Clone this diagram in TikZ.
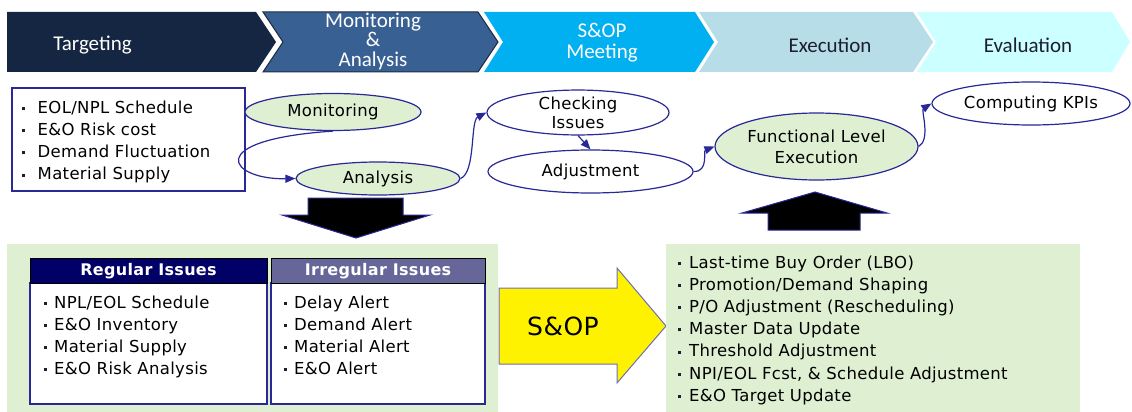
\documentclass[tikz,border=0pt]{standalone}
\usepackage{fontspec}
\setmainfont{DejaVu Sans}[LetterSpace=2.0]
\newfontfamily\bannerfont{Carlito}
\usetikzlibrary{shapes.geometric,arrows.meta}

\definecolor{navyline}{RGB}{40,40,150}
\definecolor{leaf}{RGB}{222,239,210}
\definecolor{tgtnavy}{RGB}{20,38,66}
\definecolor{monblue}{RGB}{56,96,146}
\definecolor{mondark}{RGB}{30,44,70}
\definecolor{sopblue}{RGB}{0,176,240}
\definecolor{exeblue}{RGB}{183,221,232}
\definecolor{evalcyan}{RGB}{204,255,255}
\definecolor{darktext}{RGB}{30,30,50}
\definecolor{reghead}{RGB}{0,0,102}
\definecolor{irrhead}{RGB}{102,102,153}
\definecolor{yellowline}{RGB}{110,110,180}

% square list marks
\newcommand\dotmark{\raisebox{3.2pt}{\color{darktext}\rule{3pt}{3pt}}}
\newcommand\bulA{\makebox[17pt][l]{\hspace{1pt}\dotmark}}
\newcommand\bulB{\makebox[11pt][l]{\hspace{1pt}\dotmark}}
\newcommand\bulC{\makebox[12pt][l]{\hspace{1pt}\dotmark}}

\begin{document}
\begin{tikzpicture}[x=1pt,y=-1pt,
  bannertext/.style={font=\bannerfont\fontsize{21}{19.5}\selectfont, align=center, inner sep=0pt},
  oval/.style={ellipse, draw=navyline, line width=1.2pt, inner sep=0pt, align=center,
    font=\fontsize{16.5}{19}\selectfont},
  link/.style={draw=navyline, line width=1.2pt, -{Triangle[length=10pt,width=8pt]}},
  item/.style={anchor=base west, inner sep=0pt, font=\fontsize{16.5}{19}\selectfont},
  blockarrow/.style={fill=black, draw=navyline, line width=1pt},
  headtext/.style={text=white, font=\bfseries\fontsize{16}{19}\selectfont, inner sep=0pt},
]
\useasboundingbox (0,0) rectangle (1132,412);

% process banner
\fill[tgtnavy] (7,12) -- (256,12) -- (276,42) -- (256,72) -- (7,72) -- cycle;
\filldraw[fill=monblue, draw=mondark, line width=1pt]
  (263,12) -- (478,12) -- (498,42) -- (478,72) -- (263,72) -- (283,42) -- cycle;
\fill[sopblue] (484,12) -- (695,12) -- (714,42) -- (695,72) -- (484,72) -- (503,42) -- cycle;
\fill[exeblue] (699,12) -- (913,12) -- (933,42) -- (913,72) -- (699,72) -- (718,42) -- cycle;
\fill[evalcyan] (917,12) -- (1112,12) -- (1130,42) -- (1112,72) -- (917,72) -- (936,42) -- cycle;

\node[bannertext, text=white] (tgt) at (92.5,45) {Targeting};
\node[bannertext, text=white] (mna) at (373,41) {Monitoring\\\&\\Analysis};
\node[bannertext, text=white, font=\bannerfont\fontsize{21}{21}\selectfont] (sopm) at (602,42.5) {S\&OP\\Meeting};
\node[bannertext, text=darktext] (exe) at (830,45) {Execution};
\node[bannertext, text=darktext] (evl) at (1028,45) {Evaluation};

% input box
\node[draw=navyline, line width=1.3pt, fill=white, minimum width=233pt, minimum height=103pt,
  inner sep=0pt] (inbox) at (128.5,139.5) {};
\foreach \t [count=\i from 0] in {EOL/NPL Schedule, E\&O Risk cost, Demand Fluctuation, Material Supply}
  \node[item] (in\i) at (20.5,{113+22.3*\i}) {\bulA\t};

% monitoring loop
\node[oval, fill=leaf, minimum width=176pt, minimum height=37pt] (mon) at (333,112) {Monitoring};
\node[oval, fill=leaf, minimum width=164pt, minimum height=33pt] (ana) at (378,178.5) {Analysis};
\node[oval, fill=white, minimum width=182pt, minimum height=41pt] (chk) at (578,112.5) {Checking\\Issues};
\node[oval, fill=white, minimum width=205pt, minimum height=43pt] (adj) at (590.5,171.5) {Adjustment};
\node[oval, fill=leaf, minimum width=203pt, minimum height=67pt,
  font=\fontsize{16.5}{21}\selectfont] (fle) at (816.5,146.5) {Functional Level\\Execution};
\node[oval, fill=white, minimum width=198pt, minimum height=43pt] (kpi) at (1031,103.5) {Computing KPIs};

\draw[link] (mon.south) .. controls (200,140) and (230,180) .. (ana.west);
\draw[link] (ana.east) .. controls (476,172) and (470,121) .. (chk.west);
\draw[link] (chk.south) -- (adj.north);
\draw[link] (adj.east) .. controls (709,172) and (703,151) .. (fle.west);
\draw[link] (fle.east) .. controls (931,140) and (921,110) .. (kpi.west);

% block arrows
\filldraw[blockarrow] (308,198) -- (403,198) -- (403,215) -- (430,215) -- (356,238)
  -- (282,215) -- (308,215) -- cycle;
\filldraw[blockarrow] (768,230) -- (860,230) -- (860,213) -- (887,213) -- (815,192)
  -- (742,213) -- (768,213) -- cycle;

% issue panel
\fill[leaf] (7,244) rectangle (498,412);
\draw[navyline, line width=1.3pt, fill=white] (30,283) rectangle (267,404);
\draw[navyline, line width=1.3pt, fill=white] (271,283) rectangle (485,404);
\draw[black, line width=1pt, fill=reghead] (30,258) rectangle (267,283);
\draw[black, line width=1pt, fill=irrhead] (271,258) rectangle (485,283);
\node[headtext] (reg) at (148.5,271) {Regular Issues};
\node[headtext] (irr) at (378,271) {Irregular Issues};
\foreach \t [count=\i from 0] in {NPL/EOL Schedule, E\&O Inventory, Material Supply, E\&O Risk Analysis}
  \node[item] (reg\i) at (43,{308+22*\i}) {\bulB\t};
\foreach \t [count=\i from 0] in {Delay Alert, Demand Alert, Material Alert, E\&O Alert}
  \node[item] (irr\i) at (283,{308+22*\i}) {\bulB\t};

% S&OP arrow
\filldraw[fill=yellow, draw=yellowline, line width=1pt]
  (499,288) -- (617,288) -- (617,268) -- (666,326) -- (617,383) -- (617,364) -- (499,364) -- cycle;
\node[font=\fontsize{25}{25}\selectfont, inner sep=0pt] (sop) at (563,326) {S\&OP};

% action panel
\fill[leaf] (666,244) rectangle (1080,412);
\foreach \t [count=\i from 0] in {Last-time Buy Order (LBO), Promotion/Demand Shaping,
    P/O Adjustment (Rescheduling), Master Data Update, Threshold Adjustment,
    {NPI/EOL Fcst, \& Schedule Adjustment}, E\&O Target Update}
  \node[item] (act\i) at (677,{268+22.2*\i}) {\bulC\t};
\end{tikzpicture}
\end{document}
